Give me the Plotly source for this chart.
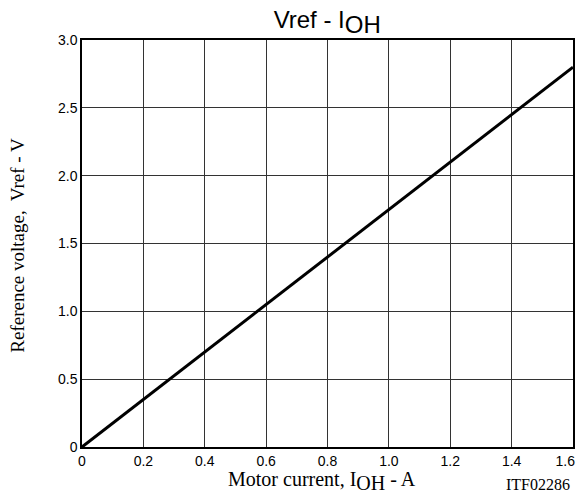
import plotly.graph_objects as go

current = [0, 1.6]
vref = [0, 2.8]

x_ticks = [0, 0.2, 0.4, 0.6, 0.8, 1.0, 1.2, 1.4, 1.6]
x_labels = ["0", "0.2", "0.4", "0.6", "0.8", "1.0", "1.2", "1.4", "1.6&nbsp;&nbsp;&nbsp;&nbsp;"]
y_ticks = [0, 0.5, 1.0, 1.5, 2.0, 2.5, 3.0]
y_labels = ["0", "0.5", "1.0", "1.5", "2.0", "2.5", "3.0"]

fig = go.Figure()
fig.add_trace(go.Scatter(x=current, y=vref, mode="lines",
                         line=dict(color="black", width=3), showlegend=False))

axis_common = dict(showgrid=True, gridcolor="#333333", gridwidth=1,
                   showline=True, linecolor="black", linewidth=1.5, mirror=True,
                   zeroline=False, ticks="", automargin=False, ticklabeloverflow="allow",
                   tickfont=dict(family="Liberation Sans, Arial", size=14, color="black"))
fig.update_xaxes(range=[0, 1.6], tickvals=x_ticks, ticktext=x_labels, **axis_common)
fig.update_yaxes(range=[0, 3.0], tickvals=y_ticks, ticktext=y_labels, **axis_common)

# the page body adds an 8px offset, so the figure is sized to fit inside the window
fig.update_layout(
    width=569, height=484,
    margin=dict(l=74, r=4, t=32, b=45, autoexpand=False),
    plot_bgcolor="white", paper_bgcolor="white",
    title=dict(text="Vref - I<sub><span style='font-size:24px'>OH</span></sub>",
               x=0.561, xanchor="center", y=1 - 12 / 484, yanchor="middle",
               font=dict(family="Liberation Sans, Arial", size=24, color="black")),
)
fig.add_annotation(text="Motor current, I<sub><span style='font-size:20px'>OH</span></sub> - A",
                   xref="paper", yref="paper",
                   x=0.489, y=-0.084, xanchor="center", yanchor="middle", showarrow=False,
                   font=dict(family="Liberation Serif, Times New Roman", size=20, color="black"))
fig.add_annotation(text="ITF02286", xref="paper", yref="paper",
                   x=0.998, y=-0.093, xanchor="right", yanchor="middle", showarrow=False,
                   font=dict(family="Liberation Serif, Times New Roman", size=16, color="black"))
fig.add_annotation(text="Reference voltage,  Vref - V", xref="paper", yref="paper",
                   x=-0.132, y=0.495, xanchor="center", yanchor="middle", textangle=-90, showarrow=False,
                   font=dict(family="Liberation Serif, Times New Roman", size=19, color="black"))

fig.write_html("out.html")
